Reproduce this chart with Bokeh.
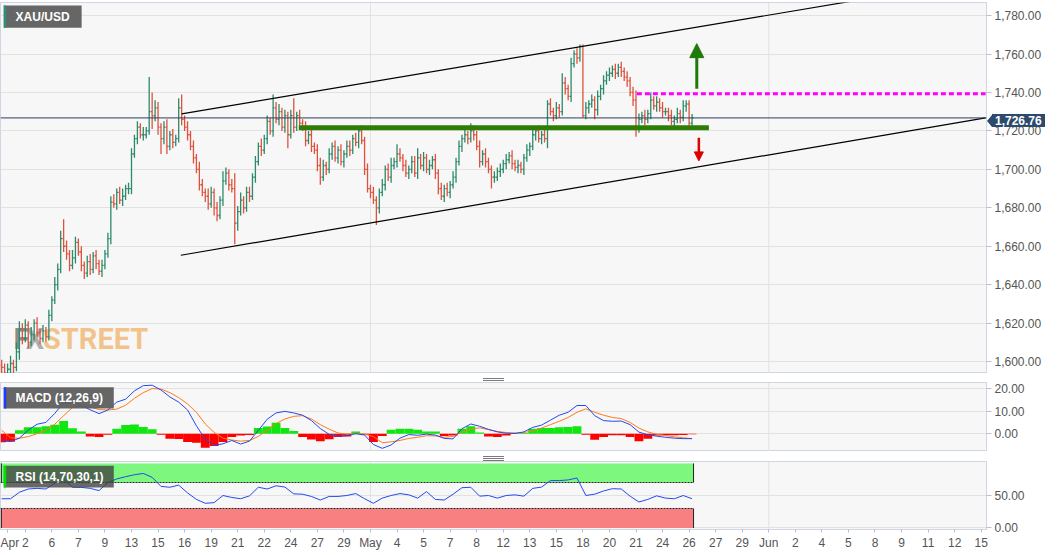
import json
from bokeh.plotting import figure
from bokeh.layouts import column
from bokeh.models import (Range1d, FixedTicker, NumeralTickFormatter, Span, Arrow,
                          NormalHead, Div, ColumnDataSource, CustomJSTickFormatter)
from bokeh.core.properties import value
from bokeh.embed import file_html
from bokeh.resources import INLINE

# ---------------- data (4h XAU/USD bars) ----------------
first_open = 1598.0
close = [
    1597, 1594, 1596, 1599, 1597, 1605, 1617, 1612, 1619, 1610,
    1614, 1620, 1615, 1612, 1616, 1613, 1624, 1632, 1640, 1648,
    1664, 1660, 1656, 1650, 1654, 1662, 1657, 1650, 1646, 1652,
    1648, 1655, 1651, 1647, 1650, 1656, 1664, 1683, 1682, 1688,
    1684, 1686, 1690, 1690, 1708, 1716, 1722, 1718, 1718, 1720,
    1730, 1728, 1732, 1722, 1716, 1722, 1712, 1718, 1714, 1716,
    1732, 1726, 1722, 1718, 1712, 1706, 1700, 1692, 1688, 1686,
    1682, 1688, 1680, 1676, 1684, 1694, 1698, 1692, 1690, 1672,
    1678, 1684, 1680, 1688, 1686, 1696, 1704, 1712, 1710, 1716,
    1725, 1720, 1732, 1726, 1730, 1722, 1728, 1718, 1728, 1722,
    1728, 1724, 1722, 1715, 1718, 1712, 1710, 1702, 1696, 1702,
    1700, 1708, 1712, 1706, 1710, 1704, 1708, 1712, 1710, 1716,
    1714, 1720, 1715, 1700, 1690, 1688, 1684, 1680, 1688, 1692,
    1700, 1696, 1702, 1704, 1708, 1706, 1702, 1698, 1700, 1704,
    1698, 1706, 1702, 1706, 1700, 1702, 1705, 1698, 1690, 1686,
    1690, 1688, 1692, 1696, 1704, 1712, 1716, 1718, 1716, 1720,
    1718, 1712, 1704, 1708, 1704, 1700, 1696, 1696, 1699, 1700,
    1703, 1705, 1707, 1703, 1701, 1702, 1700, 1706, 1710, 1712,
    1718, 1720, 1716, 1718, 1716, 1734, 1730, 1728, 1732, 1730,
    1745, 1742, 1738, 1755, 1760, 1758, 1764, 1728, 1732, 1734,
    1736, 1731, 1738, 1742, 1746, 1749, 1750, 1752, 1750, 1753,
    1751, 1748, 1746, 1740, 1736, 1722, 1726, 1728, 1726, 1729,
    1736, 1733, 1735, 1732, 1730, 1730, 1728, 1725, 1726, 1729,
    1727, 1733, 1734, 1724, 1726.76,
]
up_wick = [
    3, 2, 3, 4, 2, 5, 4, 3, 3, 2,
    4, 2, 3, 2, 3, 2, 3, 2, 4, 3,
    4, 10, 3, 2, 4, 3, 2, 3, 2, 3,
    4, 2, 3, 2, 3, 2, 3, 3, 4, 2,
    3, 4, 2, 3, 3, 2, 3, 2, 4, 2,
    18, 10, 4, 3, 2, 3, 4, 2, 3, 2,
    5, 7, 2, 3, 2, 3, 2, 4, 3, 2,
    4, 3, 2, 3, 2, 5, 3, 2, 3, 8,
    3, 4, 2, 3, 3, 2, 3, 2, 4, 2,
    3, 2, 7, 3, 4, 2, 3, 2, 3, 9,
    2, 3, 2, 3, 2, 3, 2, 3, 4, 3,
    2, 3, 2, 3, 2, 3, 2, 3, 3, 2,
    3, 2, 3, 2, 3, 2, 3, 2, 2, 3,
    2, 3, 4, 2, 5, 3, 2, 3, 2, 3,
    3, 5, 2, 3, 2, 3, 2, 3, 2, 3,
    2, 3, 2, 3, 2, 3, 2, 3, 2, 4,
    3, 2, 3, 2, 3, 2, 2, 3, 2, 3,
    2, 3, 2, 3, 2, 3, 2, 2, 3, 2,
    3, 2, 3, 2, 3, 2, 3, 2, 3, 2,
    5, 3, 2, 3, 2, 3, 1, 1, 3, 2,
    3, 2, 3, 2, 3, 2, 3, 2, 3, 2,
    3, 2, 3, 2, 3, 5, 3, 2, 3, 2,
    4, 2, 3, 2, 3, 2, 2, 3, 2, 3,
    2, 3, 2, 2, 2,
]
down_wick = [
    3, 2, 3, 2, 3, 2, 4, 3, 2, 3,
    2, 3, 2, 3, 2, 3, 2, 3, 2, 3,
    2, 3, 3, 3, 2, 3, 2, 3, 3, 2,
    3, 2, 3, 2, 3, 2, 2, 3, 2, 3,
    2, 3, 2, 3, 3, 2, 3, 2, 3, 2,
    2, 7, 3, 4, 8, 3, 4, 2, 3, 2,
    2, 3, 2, 3, 2, 3, 2, 3, 2, 3,
    3, 2, 4, 3, 2, 3, 2, 3, 2, 11,
    4, 2, 3, 2, 3, 2, 3, 2, 3, 2,
    3, 2, 3, 2, 3, 2, 3, 7, 2, 3,
    2, 3, 2, 3, 2, 3, 2, 3, 4, 2,
    3, 2, 3, 2, 3, 2, 3, 2, 3, 2,
    2, 3, 2, 3, 2, 3, 2, 9, 3, 2,
    3, 2, 3, 2, 3, 2, 3, 2, 3, 2,
    2, 3, 2, 3, 2, 3, 2, 3, 3, 2,
    3, 2, 3, 2, 3, 2, 3, 2, 3, 2,
    3, 2, 3, 2, 3, 2, 6, 3, 2, 3,
    2, 3, 2, 3, 2, 3, 2, 3, 2, 3,
    2, 3, 2, 3, 2, 5, 2, 3, 2, 3,
    2, 3, 2, 3, 2, 3, 2, 1, 2, 3,
    2, 5, 3, 2, 3, 2, 3, 2, 3, 2,
    3, 2, 3, 2, 3, 5, 3, 2, 3, 2,
    3, 2, 3, 2, 3, 2, 3, 2, 3, 2,
    3, 2, 3, 2, 2,
]
last_price = 1726.76
last_price_text = "1,726.76"

# indicators, read every third bar
ind_x = list(range(0, 235, 3))
macd = [
    -2.7, -3.5, -2.0, 1.6, 4.2, 5.0, 9, 13.7, 13.5, 12.6,
    10.6, 8.9, 10.5, 14, 15.3, 19, 21.3, 21.5, 19.4, 16.3,
    14, 10.5, 3.5, -2.5, -5.2, -4.5, -3, -4.6, -3.3, 1.5,
    6.4, 9.2, 9.9, 9.2, 8.2, 5.8, 2.3, -0.3, -1.1, -0.9,
    0, -0.6, -4.8, -6.5, -5, -2, -0.4, -0.7, -0.2, -0.6,
    -2.1, -2.3, 2.2, 4.3, 3.3, 1.9, 0.8, 0.2, 0.1, 0.8,
    2.8, 3.8, 6, 8.2, 9.5, 12.5, 12.5, 8, 5.8, 5.5,
    5.6, 4, 0.7, -0.5, -1.1, -1.6, -2, -2.2, -2.2,
]
signal = [
    1.5, -1.8, -2.0, -1.3, 0, 1.5, 4.2, 8, 11.6, 12.3,
    11.8, 10.7, 10.5, 10.9, 12.6, 15.7, 18.2, 20, 19.8, 18.2,
    16, 13.2, 9.5, 4.3, 0.6, -2.0, -2.8, -3.3, -3.0, -1.2,
    1.6, 4.5, 6.5, 7.7, 8.0, 6.5, 4, 2, 0.3, -0.2,
    0, -0.2, -1.3, -4, -3.6, -3, -2.1, -1.6, -0.9, -1,
    -1.6, -1.2, 0.7, 2, 2.6, 1.8, 1, 0.5, 0.3, 0.5,
    1.2, 2.5, 4, 5.5, 7.2, 9.5, 11, 9.5, 8.2, 7.2,
    6.7, 5, 2.5, 0.8, -0.3, -0.8, -1.4, -1.8, -2.2,
]
hist = [
    -3.8, -3.6, 1.5, 2.8, 2.8, 3.3, 4, 5.6, 2.4, 1.0,
    -1.2, -1.5, -0.5, 2.2, 3.8, 4.1, 3, 2, -0.5, -2.2,
    -2.4, -3.7, -4, -6.2, -5.5, -3.7, -1.5, -0.8, -0.6, 2.5,
    3.2, 4.9, 2.5, 1.2, -1.5, -2.6, -3.3, -2.5, -1.5, -1.2,
    1, -0.5, -3.7, -1, 1.8, 2.2, 2.2, 1.8, 1, 1,
    -1, -0.8, 2.2, 3.3, 0.5, -1.3, -1.5, -0.8, 0.2, 0.3,
    2.2, 2.5, 2.5, 2.8, 3, 3.3, -0.5, -2.7, -1.5, -0.7,
    -0.7, -1.5, -3.3, -2.2, -0.8, -0.7, -0.7, -0.6, -0.3,
]
rsi = [
    45, 45, 55, 60, 61, 60, 69, 75, 62.7, 62.5,
    61, 57.6, 70, 75.5, 79, 82, 84, 78, 64, 62.7,
    66, 54, 44, 38, 39, 50, 47, 45, 49.5, 62.7,
    60, 65, 63, 52.5, 52, 48.5, 43, 48.6, 48.6, 50,
    53, 45, 38, 46, 50, 53, 51, 46, 56, 44,
    43, 52, 62, 62.7, 49, 50, 46, 50, 51, 49,
    61, 63, 73, 73, 74, 77, 50, 52, 57, 60.5,
    60, 49, 40, 44, 49.5, 46, 45, 50, 45,
]

# drawn levels (bar index, price)
upper_line_x = [61.0, 333.5]
upper_line_y = [1728.9, 1799.2]
lower_line_x = [60.7, 333.5]
lower_line_y = [1655.3, 1726.8]
support_x = [100.7, 239.7]
support_y = [1721.6, 1721.6]
resist_x = [215.3, 333.5]
resist_y = [1739.3, 1739.3]

price_ticks = [1600, 1620, 1640, 1660, 1680, 1700, 1720, 1740, 1760, 1780]
tick_labels = ["Apr", "2", "6", "7", "9", "13", "15", "16", "19", "21", "22", "24", "27", "29",
               "May", "4", "5", "7", "8", "12", "13", "15", "18", "20", "21", "24", "26", "27",
               "29", "Jun", "2", "4", "5", "8", "9", "11", "12", "15"]
tick_pos = [2, 8, 17, 26, 35, 44, 53, 62, 71, 80, 89, 98, 107, 116, 125, 134, 143, 152, 161,
            170, 179, 188, 197, 206, 215, 224, 233, 242, 251, 260, 269, 278, 287, 296, 305,
            314, 323, 332]
month_lines = [125, 260]

assert len(close) == len(up_wick) == len(down_wick) == 235
assert len(macd) == len(signal) == len(hist) == len(rsi) == len(ind_x)
assert len(tick_labels) == len(tick_pos)

# ---------------- styling helpers ----------------
FRAME_W = 986
MAIN_H = 371
MAIN_TOP = 2
X0, X1 = -0.4, 333.8
Y0, Y1 = 1593.8, 1786.8
FONT = "Liberation Sans"
BORDER = "#cfd5e2"
GRID = "#e2e2e2"
GREEN = "#2b8a6b"
RED = "#e0513d"


def style(fig):
    fig.background_fill_color = "#f7f7f7"
    fig.border_fill_color = "white"
    fig.outline_line_color = BORDER
    fig.min_border_left = 0
    fig.min_border_right = 0
    fig.yaxis.axis_line_color = BORDER
    fig.yaxis.major_tick_line_color = "#b9c0cd"
    fig.yaxis.major_tick_out = 5
    fig.yaxis.major_tick_in = 0
    fig.yaxis.minor_tick_line_color = None
    fig.yaxis.major_label_text_font = FONT
    fig.yaxis.major_label_text_font_size = "12px"
    fig.yaxis.major_label_text_color = "#555555"
    fig.yaxis.major_label_standoff = 3
    fig.ygrid.grid_line_color = GRID
    fig.xgrid.grid_line_color = None
    for mline in month_lines:
        fig.add_layout(Span(location=mline, dimension="height", line_color=GRID,
                            line_width=1, level="underlay"))


def tag_box(fig, x0, x1, y0, y1, stripe, text, ty, box_color="#5e5e5e", alpha=0.95):
    fig.quad(left=[x0], right=[x1], bottom=[y0], top=[y1], fill_color=box_color,
             fill_alpha=alpha, line_color=None)
    fig.quad(left=[x0], right=[x0 + 0.85], bottom=[y0], top=[y1], fill_color=stripe,
             line_color=None)
    fig.text(x=[x0 + 4.0], y=[ty], text=[text], text_font=value(FONT),
             text_font_size="12px", text_font_style="bold", text_color="white",
             text_baseline="middle")


# ---------------- main price panel ----------------
N = len(close)
idx = list(range(N))
opens = [first_open] + close[:-1]
highs = [max(o, c) + u for o, c, u in zip(opens, close, up_wick)]
lows = [min(o, c) - d for o, c, d in zip(opens, close, down_wick)]
cols = [GREEN if c >= o else RED for o, c in zip(opens, close)]
src = ColumnDataSource(dict(x=idx, xl=[i - 0.45 for i in idx], xr=[i + 0.45 for i in idx],
                            o=opens, h=highs, l=lows, c=close, col=cols))

p = figure(frame_width=FRAME_W, frame_height=MAIN_H, x_range=Range1d(X0, X1),
           y_range=Range1d(Y0, Y1), x_axis_location=None, y_axis_location="right",
           output_backend="svg", toolbar_location=None, min_border_top=MAIN_TOP,
           min_border_bottom=0)
style(p)
p.yaxis.ticker = FixedTicker(ticks=price_ticks)
p.yaxis.formatter = NumeralTickFormatter(format="0,0.00")

# watermark
p.text(x=[4.0], y=[1602.8], text=["F"], text_font=value("Roboto"),
       text_font_size="29px", text_font_style="bold", text_color="#6f6f6f", text_alpha=0.8)
p.text(x=[8.2], y=[1602.8], text=["X"], text_font=value("Roboto"),
       text_font_size="29px", text_font_style="bold", text_color="#9a9a9a", text_alpha=0.8)
p.text(x=[14.0], y=[1602.8], text=["STREET"], text_font=value("Roboto"),
       text_font_size="29px", text_font_style="bold", text_color="#f0b060", text_alpha=0.72)

p.segment(x0="x", y0="l", x1="x", y1="h", source=src, line_color="col", line_width=1.3)
p.segment(x0="xl", y0="o", x1="x", y1="o", source=src, line_color="col", line_width=1.3)
p.segment(x0="x", y0="c", x1="xr", y1="c", source=src, line_color="col", line_width=1.3)

p.add_layout(Span(location=last_price, dimension="width", line_color="#2c3e5c", line_width=1))
p.line(upper_line_x, upper_line_y, line_color="black", line_width=1.2)
p.line(lower_line_x, lower_line_y, line_color="black", line_width=1.2)
p.line(support_x, support_y, line_color="#2e7d06", line_width=5)
p.line(resist_x, resist_y, line_color="#ff00ff", line_width=3, line_dash="5 3")

p.add_layout(Arrow(end=NormalHead(size=14, fill_color="#1f7a0a", line_color="#1f7a0a"),
                   x_start=235.6, y_start=1741.9, x_end=235.6, y_end=1765.4,
                   line_color="#1f7a0a", line_width=3))
p.add_layout(Arrow(end=NormalHead(size=9, fill_color="#e00000", line_color="#e00000"),
                   x_start=236.3, y_start=1716.4, x_end=236.3, y_end=1704.4,
                   line_color="#e00000", line_width=2.5))

tag_box(p, 0.7, 27.1, 1773.7, 1785.2, "#2f8f7c", "XAU/USD", 1779.4)

# ---------------- MACD panel ----------------
m = figure(frame_width=FRAME_W, frame_height=69, x_range=p.x_range,
           y_range=Range1d(-7.9, 22.7), x_axis_location=None, y_axis_location="right",
           output_backend="svg", toolbar_location=None, min_border_top=0, min_border_bottom=0)
style(m)
m.yaxis.ticker = FixedTicker(ticks=[0, 10, 20])
m.yaxis.formatter = NumeralTickFormatter(format="0.00")
hcols = ["#11e611" if v >= 0 else "#ff0000" for v in hist]
m.vbar(x=ind_x, top=hist, bottom=0, width=3, fill_color=hcols, line_color=None)
m.line(ind_x, signal, line_color="#ff7a1a", line_width=1)
m.line(ind_x, macd, line_color="#2448f0", line_width=1)
tag_box(m, 0.7, 38.0, 11.2, 20.6, "#1a3cff", "MACD (12,26,9)", 15.9)

# ---------------- RSI panel ----------------
r = figure(frame_width=FRAME_W, frame_height=68, x_range=p.x_range,
           y_range=Range1d(-2.4, 102.4), y_axis_location="right",
           output_backend="svg", toolbar_location=None, min_border_top=0, min_border_bottom=0)
style(r)
r.yaxis.ticker = FixedTicker(ticks=[0, 50])
r.yaxis.formatter = NumeralTickFormatter(format="0.00")
BAND_END = 234.5
r.quad(left=[X0], right=[BAND_END], bottom=[70], top=[99.4], fill_color="#7ef77e", line_color=None)
r.quad(left=[X0], right=[BAND_END], bottom=[0], top=[30], fill_color="#f98080", line_color=None)
r.line([X0, BAND_END], [70, 70], line_color="#222222", line_width=1, line_dash="2 1")
r.line([X0, BAND_END], [30, 30], line_color="#222222", line_width=1, line_dash="2 1")
r.line([BAND_END, BAND_END], [70, 99.4], line_color="#222222", line_width=1)
r.line([BAND_END, BAND_END], [0, 30], line_color="#222222", line_width=1)
r.line([X0 + 0.3, X0 + 0.3], [70, 99.4], line_color="#222222", line_width=1)
r.line([X0 + 0.3, X0 + 0.3], [0, 30], line_color="#222222", line_width=1)
r.line(ind_x, rsi, line_color="#2448f0", line_width=1)
tag_box(r, 0.7, 38.0, 62.2, 95.9, "#00e000", "RSI (14,70,30,1)", 79.0,
        box_color="#404040", alpha=0.78)

lab_map = {str(t): l for t, l in zip(tick_pos, tick_labels)}
r.xaxis.ticker = FixedTicker(ticks=tick_pos)
r.xaxis.formatter = CustomJSTickFormatter(
    code="const m = %s; const k = String(Math.round(tick)); return (k in m) ? m[k] : '';"
    % json.dumps(lab_map))
r.xaxis.axis_line_color = BORDER
r.xaxis.major_tick_line_color = "#b9c0cd"
r.xaxis.major_tick_out = 3
r.xaxis.major_tick_in = 0
r.xaxis.minor_tick_line_color = None
r.xaxis.major_label_text_font = FONT
r.xaxis.major_label_text_font_size = "12px"
r.xaxis.major_label_text_color = "#555555"
r.xaxis.major_label_standoff = 3

# ---------------- separators (with the current-price tag on the first) ----------------
main_fig_h = MAIN_TOP + MAIN_H
tag_center = MAIN_TOP + (Y1 - last_price) / (Y1 - Y0) * MAIN_H   # px from figure top
tag_top = int(round(tag_center - 6.5 - main_fig_h))


def handle(h, extra=""):
    lines = "".join(
        '<div style="position:absolute;left:483px;top:%dpx;width:21px;height:1px;'
        'background:#7a7a7a;"></div>' % (h // 2 - 2 + 2 * k) for k in range(3))
    html = ('<div style="position:relative;width:%dpx;height:%dpx;">%s%s</div>'
            % (FRAME_W, h, lines, extra))
    return Div(text=html, width=FRAME_W, height=h, margin=0,
               styles={"overflow": "visible"})


price_tag = (
    '<div style="position:absolute;left:%dpx;top:%dpx;width:0;height:0;'
    'border-top:6px solid transparent;border-bottom:6px solid transparent;'
    'border-right:5px solid #2c4a6e;"></div>'
    '<div style="position:absolute;left:%dpx;top:%dpx;height:13px;line-height:13px;'
    'padding:0 3px;background:#2c4a6e;color:white;font:bold 12px \'Liberation Sans\';'
    'white-space:nowrap;">%s</div>'
    % (FRAME_W + 1, tag_top + 1, FRAME_W + 6, tag_top, last_price_text))

layout = column(p, handle(9, price_tag), m, handle(10), r)
open("out.html", "w").write(file_html(layout, INLINE))
